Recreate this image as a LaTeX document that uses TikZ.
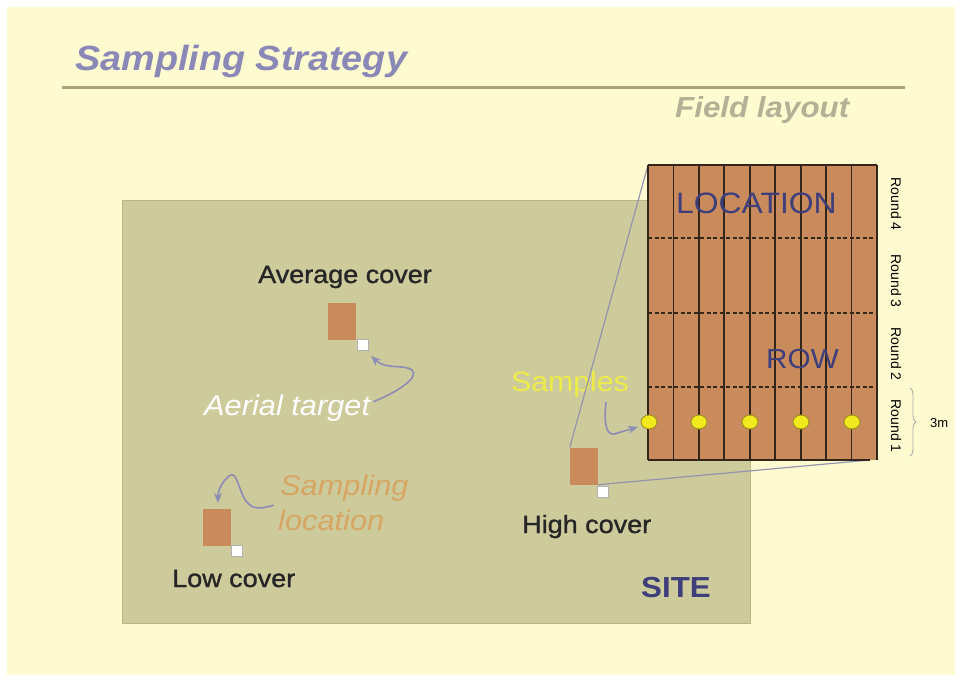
\documentclass[tikz,border=0pt]{standalone}
\usepackage{fontspec}
\setmainfont{Liberation Sans}
\newfontfamily\wide[FakeStretch=1.08]{Liberation Sans}
\newfontfamily\widebold[FakeStretch=1.08,FakeBold=1.2]{Liberation Sans}
\usetikzlibrary{arrows.meta,decorations.pathreplacing,shapes.geometric}
\definecolor{bgc}{HTML}{FEFBD0}
\definecolor{titlec}{HTML}{8A88B6}
\definecolor{rulec}{HTML}{A9A47A}
\definecolor{fieldtxt}{HTML}{B3B195}
\definecolor{sitec}{HTML}{CDCA9C}
\definecolor{siteedge}{HTML}{B9B68B}
\definecolor{brownc}{HTML}{C98A5C}
\definecolor{darkln}{HTML}{35261A}
\definecolor{navyc}{HTML}{3E3E7A}
\definecolor{samplc}{HTML}{D6A664}
\definecolor{yelc}{HTML}{EDEC48}
\definecolor{dotc}{HTML}{F2E81E}
\definecolor{arrc}{HTML}{8C8CB4}
\definecolor{zoomc}{HTML}{9494AE}
\tikzset{
  txt/.style={inner sep=0pt, anchor=base west},
  lbl/.style={txt, font=\widebold\fontsize{25}{29}\selectfont, text=black!85},
  ital/.style={txt, font=\wide\itshape\fontsize{28.5}{33}\selectfont},
  smallrect/.style={fill=brownc, minimum width=28pt, minimum height=37pt, inner sep=0pt},
  wsq/.style={fill=white, draw=gray!60, line width=0.6pt, minimum size=11pt, inner sep=0pt},
  pointer/.style={draw=arrc, line width=1.6pt, -{Stealth[length=10pt,width=8pt]}},
  roundlbl/.style={rotate=-90, inner sep=0pt, font=\fontsize{14}{16}\selectfont},
  sdot/.style={ellipse, fill=dotc, draw=darkln!45!dotc, line width=0.9pt, minimum width=16pt, minimum height=14pt, inner sep=0pt},
}
\begin{document}
\begin{tikzpicture}[x=1pt,y=-1pt]
\useasboundingbox (0,0) rectangle (961,681);
\fill[white] (0,0) rectangle (961,681);
\fill[bgc] (7,7) rectangle (955,675);
% title
\node[txt, text=titlec, font=\wide\bfseries\itshape\fontsize{35}{40}\selectfont] (title) at (75,70) {Sampling Strategy};
\draw[rulec, line width=3pt] (62,87) -- (905,87);
\node[txt, text=fieldtxt, font=\wide\bfseries\itshape\fontsize{29}{33}\selectfont] (fl) at (675,117) {Field layout};
% site
\node[fill=sitec, draw=siteedge, line width=1pt, minimum width=628pt, minimum height=423pt, inner sep=0pt, anchor=north west] (site) at (122,200) {};
\node[txt, text=navyc, font=\wide\bfseries\fontsize{29}{33}\selectfont] (sitelbl) at (641,597) {SITE};
% small plots
\node[smallrect] (avg) at (342,321) {};
\node[wsq] (avgw) at (362.5,344.5) {};
\node[smallrect] (low) at (216.5,527.5) {};
\node[wsq] (loww) at (236.5,551) {};
\node[smallrect] (high) at (584,466) {};
\node[wsq] (highw) at (603,492) {};
\node[lbl] (avgl) at (258,283) {Average cover};
\node[lbl] (lowl) at (172,587) {Low cover};
\node[lbl] (highl) at (522,533) {High cover};
\node[ital, text=white] (aerial) at (204,415) {Aerial target};
\node[ital, text=samplc] (samp1) at (280,495) {Sampling};
\node[ital, text=samplc] (samp2) at (278,530) {location};
\node[txt, text=yelc, font=\wide\fontsize{28}{32}\selectfont] (samples) at (511,391) {Samples};
% zoom lines
\coordinate (ftl) at (648,165);
\coordinate (fbr) at (870,460);
\draw[zoomc, line width=1.2pt] (high.north west) -- (ftl);
\draw[zoomc, line width=1.2pt] (high.south east) -- (fbr);
% field layout
\fill[brownc] (648,165) rectangle (877,460);
\foreach \k in {0,...,9} {
  \draw[darkln, line width=1.7pt] ({648+\k*25.44},165) -- ({648+\k*25.44},460);
}
\draw[darkln, line width=2.2pt] (648,165) -- (877,165);
\draw[darkln, line width=2.2pt] (648,460) -- (870,460);
\foreach \yy in {238,313,387} {
  \draw[darkln, line width=1.1pt, dash pattern=on 4pt off 2.5pt] (648,\yy) -- (877,\yy);
}
\node[txt, text=navyc, font=\wide\fontsize{29.5}{34}\selectfont] (loc) at (676,213) {LOCATION};
\node[txt, text=navyc, font=\wide\fontsize{27.5}{32}\selectfont] (row) at (766,368) {ROW};
\node[sdot] (d1) at (649,422) {};
\node[sdot] (d2) at (699,422) {};
\node[sdot] (d3) at (750,422) {};
\node[sdot] (d4) at (801,422) {};
\node[sdot] (d5) at (852,422) {};
% round labels
\node[roundlbl] (r4) at (896,204) {Round 4};
\node[roundlbl] (r3) at (896,281) {Round 3};
\node[roundlbl] (r2) at (896,354) {Round 2};
\node[roundlbl] (r1) at (896,426) {Round 1};
\coordinate (bt) at (910,388);
\coordinate (bb) at (910,456);
\draw[gray!70, line width=0.8pt, decorate, decoration={brace, amplitude=6pt}] (bt) -- (bb);
\node[inner sep=0pt, anchor=west, font=\fontsize{13}{15}\selectfont] (three) at (930,423) {3m};
% pointers
\coordinate (atip) at (371,356);
\draw[pointer] (aerial.east) ++(3,-6) coordinate (astart) (astart) .. controls (398,392) and (420,377) .. (412,370) .. controls (404,364) and (386,370) .. (atip);
\coordinate (ltip) at (218,503);
\draw[pointer] (samp2.north west) ++(-4,-4) coordinate (lstart) (lstart) .. controls (262,508) and (252,512) .. (244,498) .. controls (238,486) and (236,470) .. (229,476) .. controls (222,482) and (218,490) .. (ltip);
\coordinate (stip) at (638,427);
\draw[pointer] (606,402) .. controls (604,420) and (605,435) .. (614,434) -- (stip);
\end{tikzpicture}
\end{document}
